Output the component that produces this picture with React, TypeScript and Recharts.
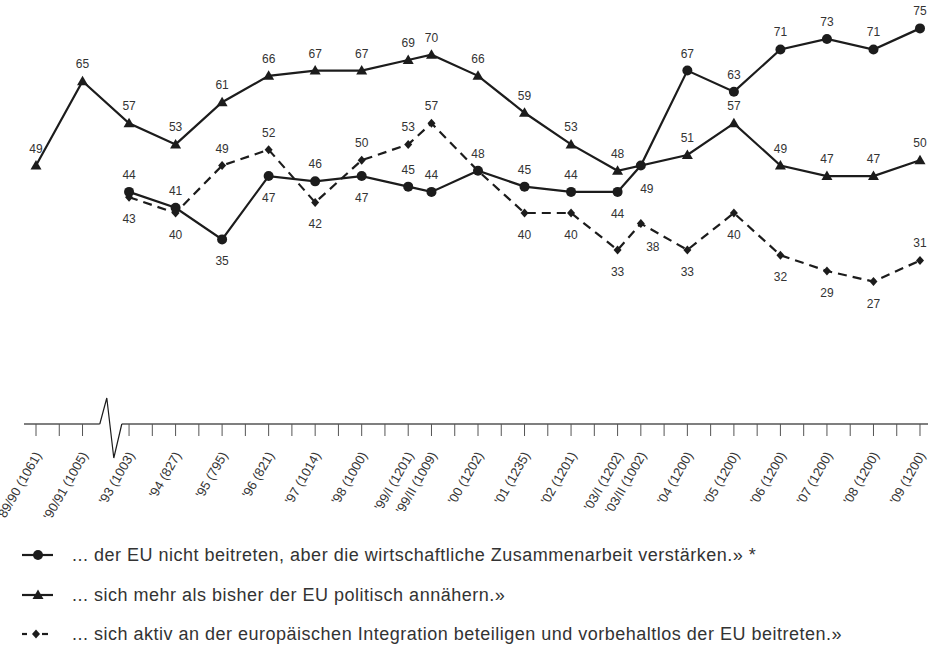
import React from 'react';
import { LineChart, Line, XAxis, YAxis } from 'recharts';

// Survey waves (label with sample size) and their position on the time axis (years since '89/90)
const categories = [
  "'89/90 (1061)", "'90/91 (1005)", "'93 (1003)", "'94 (827)", "'95 (795)", "'96 (821)",
  "'97 (1014)", "'98 (1000)", "'99/I (1201)", "'99/II (1009)", "'00 (1202)", "'01 (1235)",
  "'02 (1201)", "'03/I (1202)", "'03/II (1002)", "'04 (1200)", "'05 (1200)", "'06 (1200)",
  "'07 (1200)", "'08 (1200)", "'09 (1200)",
];
const surveyTime = [0, 1, 2, 3, 4, 5, 6, 7, 8, 8.5, 9.5, 10.5, 11.5, 12.5, 13, 14, 15, 16, 17, 18, 19];

// «... der EU nicht beitreten, aber die wirtschaftliche Zusammenarbeit verstärken.»
const seriesWirtschaft = [null, null, 44, 41, 35, 47, 46, 47, 45, 44, 48, 45, 44, 44, 49, 67, 63, 71, 73, 71, 75];
// «... sich mehr als bisher der EU politisch annähern.»
const seriesAnnaehern = [49, 65, 57, 53, 61, 66, 67, 67, 69, 70, 66, 59, 53, 48, null, 51, 57, 49, 47, 47, 50];
// «... sich aktiv an der europäischen Integration beteiligen ...»
const seriesBeitreten = [null, null, 43, 40, 49, 52, 42, 50, 53, 57, 48, 40, 40, 33, 38, 33, 40, 32, 29, 27, 31];

// axis ticks every half year
const axisTicks = [0, 0.5, 1, 1.5, 2, 2.5, 3, 3.5, 4, 4.5, 5, 5.5, 6, 6.5, 7, 7.5, 8, 8.5, 9, 9.5, 10, 10.5,
  11, 11.5, 12, 12.5, 13, 13.5, 14, 14.5, 15, 15.5, 16, 16.5, 17, 17.5, 18, 18.5, 19];
const axisBreakAt = 1.5;

const legendTexts = [
  '... der EU nicht beitreten, aber die wirtschaftliche Zusammenarbeit verstärken.» *',
  '... sich mehr als bisher der EU politisch annähern.»',
  '... sich aktiv an der europäischen Integration beteiligen und vorbehaltlos der EU beitreten.»',
];

// label placement codes (style): a = above, b = below, r / R = below right, '' = none
const placeWirtschaft = ['', '', 'a', 'a', 'b', 'b', 'a', 'b', 'a', 'a', 'a', 'a', 'a', 'b', 'r', 'a', 'a', 'a', 'a', 'a', 'a'];
const placeAnnaehern = ['a', 'a', 'a', 'a', 'a', 'a', 'a', 'a', 'a', 'a', 'a', 'a', 'a', 'a', '', 'a', 'a', 'a', 'a', 'a', 'a'];
const placeBeitreten = ['', '', 'b', 'b', 'a', 'a', 'b', 'a', 'a', 'a', '', 'b', 'b', 'b', 'R', 'b', 'b', 'b', 'b', 'b', 'a'];

const INK = '#1c1c1c';
const TEXT = '#333333';
const FONT = '"Liberation Sans", Arial, Helvetica, sans-serif';

const data = categories.map((c, i) => ({
  x: surveyTime[i],
  name: c,
  w: seriesWirtschaft[i],
  a: seriesAnnaehern[i],
  b: seriesBeitreten[i],
}));

const tickLabelOf: Record<string, string> = {};
surveyTime.forEach((t, i) => { tickLabelOf[String(t)] = categories[i]; });

function offsetFor(p: string): [number, number] {
  switch (p) {
    case 'a': return [0, -17];
    case 'b': return [0, 22];
    case 'r': return [6, 23];
    case 'R': return [12, 23];
    default: return [0, 0];
  }
}

function marker(shape: string, cx: number, cy: number) {
  if (shape === 'circle') return <circle cx={cx} cy={cy} r={5} fill={INK} />;
  if (shape === 'triangle')
    return <path d={`M${cx},${cy - 5.5} L${cx + 5.5},${cy + 4} L${cx - 5.5},${cy + 4} Z`} fill={INK} />;
  return <path d={`M${cx},${cy - 4.5} L${cx + 4},${cy} L${cx},${cy + 4.5} L${cx - 4},${cy} Z`} fill={INK} />;
}

function makeDot(shape: string, places: string[], key: string) {
  return (props: any) => {
    const { cx, cy, index, value } = props;
    const k = `${key}-${index}`;
    if (cx == null || cy == null || value == null || Number.isNaN(cy)) return <g key={k} />;
    const p = places[index] || '';
    const [dx, dy] = offsetFor(p);
    return (
      <g key={k}>
        {marker(shape, cx, cy)}
        {p !== '' && (
          <text x={cx + dx} y={cy + dy} textAnchor="middle" dominantBaseline="central"
            fontFamily={FONT} fontSize={12} fill={TEXT}>
            {value}
          </text>
        )}
      </g>
    );
  };
}

const AxisTick = (props: any) => {
  const { x, y, payload } = props;
  const v = payload.value;
  if (v === axisBreakAt) {
    return (
      <g>
        <rect x={x - 6} y={y - 2} width={22} height={4} fill="#ffffff" />
        <polyline points={`${x - 6},${y} ${x + 1},${y - 26} ${x + 8},${y + 34} ${x + 16},${y}`}
          fill="none" stroke={INK} strokeWidth={1.2} />
      </g>
    );
  }
  const label = tickLabelOf[String(v)];
  return (
    <g>
      <line x1={x} y1={y} x2={x} y2={y + 12} stroke="#555" strokeWidth={1} />
      {label && (
        <text x={x + 6} y={y + 31} textAnchor="end" transform={`rotate(-60, ${x + 6}, ${y + 31})`}
          fontFamily={FONT} fontSize={13} fill={TEXT}>
          {label}
        </text>
      )}
    </g>
  );
};

const legendRows = [555, 595, 634];

function LegendIcon({ i, y }: { i: number; y: number }) {
  if (i === 2) {
    return (
      <g>
        <line x1={22} y1={y} x2={27} y2={y} stroke={INK} strokeWidth={2.2} />
        {marker('diamond', 36, y)}
        <line x1={42} y1={y} x2={48} y2={y} stroke={INK} strokeWidth={2.2} />
      </g>
    );
  }
  return (
    <g>
      <line x1={22} y1={y} x2={53} y2={y} stroke={INK} strokeWidth={2.2} />
      {marker(i === 0 ? 'circle' : 'triangle', 38, y)}
    </g>
  );
}

export default function App() {
  return (
    <div style={{ position: 'absolute', left: 0, top: 0, width: 928, height: 648, background: '#ffffff' }}>
      <LineChart width={928} height={648} data={data}
        margin={{ top: 2, right: 0, bottom: 194, left: 24 }}>
        <XAxis dataKey="x" type="number" domain={[-0.258, 19.172]} ticks={axisTicks} interval={0}
          allowDataOverflow tickLine={false} tickSize={0} tickMargin={0} height={30}
          axisLine={{ stroke: '#555', strokeWidth: 1.5 }} tick={<AxisTick />} />
        <YAxis hide domain={[0, 80]} type="number" />
        <Line dataKey="a" stroke={INK} strokeWidth={2.2} connectNulls
          dot={makeDot('triangle', placeAnnaehern, 'a')} activeDot={false} isAnimationActive={false} />
        <Line dataKey="b" stroke={INK} strokeWidth={2.2} strokeDasharray="9 6"
          dot={makeDot('diamond', placeBeitreten, 'b')} activeDot={false} isAnimationActive={false} />
        <Line dataKey="w" stroke={INK} strokeWidth={2.2}
          dot={makeDot('circle', placeWirtschaft, 'w')} activeDot={false} isAnimationActive={false} />
      </LineChart>
      <svg width={928} height={648} style={{ position: 'absolute', left: 0, top: 0, pointerEvents: 'none' }}>
        {legendTexts.map((t, i) => (
          <g key={t}>
            <LegendIcon i={i} y={legendRows[i]} />
            <text x={72} y={legendRows[i]} dominantBaseline="central" fontFamily={FONT} fontSize={18}
              letterSpacing={0.5} fill={TEXT}>
              {t}
            </text>
          </g>
        ))}
      </svg>
    </div>
  );
}
